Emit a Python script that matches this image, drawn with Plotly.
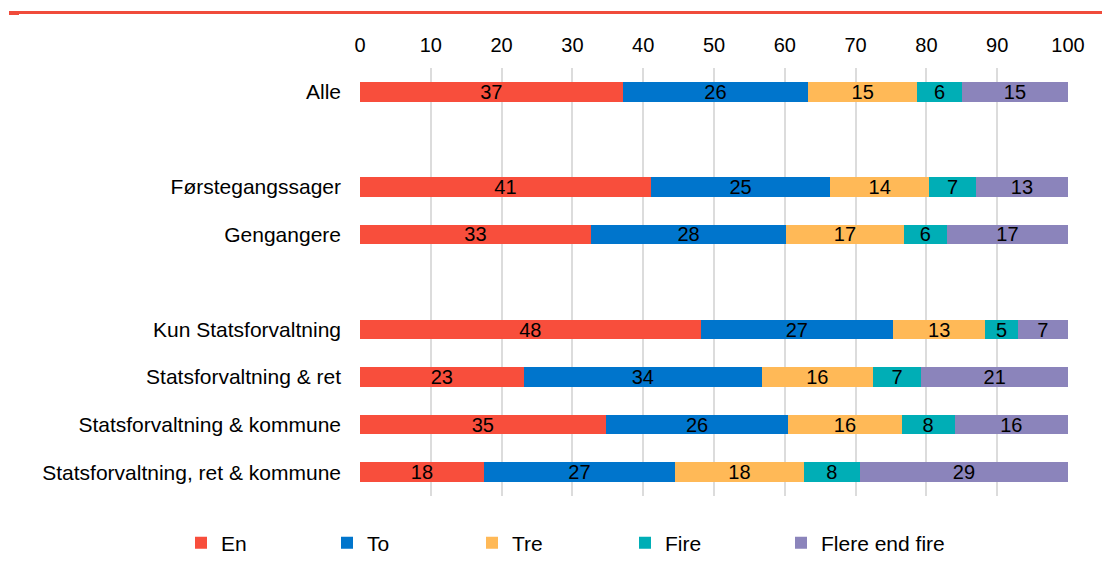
import plotly.graph_objects as go

categories = ["Alle", " ", "Førstegangssager", "Gengangere", "  ",
              "Kun Statsforvaltning", "Statsforvaltning & ret",
              "Statsforvaltning & kommune", "Statsforvaltning, ret & kommune"]

series_names = ["En", "To", "Tre", "Fire", "Flere end fire"]
en = [37.1, None, 41.1, 32.6, None, 48.1, 23.1, 34.7, 17.5]
to = [26.2, None, 25.3, 27.6, None, 27.2, 33.7, 25.8, 27.0]
tre = [15.4, None, 14.0, 16.6, None, 13.0, 15.6, 16.0, 18.2]
fire = [6.3, None, 6.6, 6.1, None, 4.6, 6.9, 7.5, 7.9]
flere = [15.0, None, 13.0, 17.1, None, 7.1, 20.7, 16.0, 29.4]
series_values = [en, to, tre, fire, flere]

colors = ["#F84E3C", "#0075CC", "#FFB957", "#00AEB6", "#8B84BB"]
x_ticks = [0, 10, 20, 30, 40, 50, 60, 70, 80, 90, 100]

FONT = "Liberation Sans, Arial, sans-serif"

# the page body has an 8px margin; figure coordinates = screen px - 8
OFF = 8
W, H = 1110 - OFF, 579 - OFF
L = 360 - OFF
R = 42
T = 68 - OFF
B = 83
pw = W - L - R
ph = H - T - B

def px_x(p):
    return (p - OFF - L) / pw

def px_y(p):
    return ((H - B) - (p - OFF)) / ph

fig = go.Figure()
legend_ids = ["legend", "legend2", "legend3", "legend4", "legend5"]
for name, vals, col, lg in zip(series_names, series_values, colors, legend_ids):
    fig.add_trace(go.Bar(
        y=categories, x=vals, name=name, orientation="h",
        marker=dict(color=col, line=dict(width=0)),
        texttemplate="%{x:.0f}", textposition="inside",
        insidetextanchor="middle", textangle=0,
        constraintext="none",
        textfont=dict(family=FONT, size=20, color="#000000"),
        hoverinfo="skip", legend=lg,
    ))

# legend text start positions (screen px)
text_px = [221, 367, 512, 665, 821]
legend_layout = {}
for lg, tx in zip(legend_ids, text_px):
    legend_layout[lg] = dict(
        x=px_x(tx - 40), xanchor="left",
        y=px_y(543), yanchor="middle",
        orientation="h", bgcolor="rgba(0,0,0,0)", borderwidth=0,
        font=dict(family=FONT, size=21, color="#000000"),
    )

fig.update_layout(
    width=W, height=H,
    margin=dict(l=L, r=R, t=T, b=B, pad=0),
    paper_bgcolor="white", plot_bgcolor="white",
    barmode="stack", bargap=0.59,
    font=dict(family=FONT, size=20, color="#000000"),
    showlegend=True,
    **legend_layout,
)

fig.update_xaxes(
    range=[0, 100], side="top", tickvals=x_ticks,
    showgrid=True, gridcolor="#DCDCDC", gridwidth=2,
    zeroline=False, showline=False, ticks="",
    tickfont=dict(family=FONT, size=20, color="#000000"),
    ticklabelstandoff=11, fixedrange=True,
)
fig.update_yaxes(
    categoryorder="array", categoryarray=categories,
    autorange="reversed", showgrid=False, zeroline=False,
    showline=False, ticks="",
    tickfont=dict(family=FONT, size=21, color="#000000"),
    ticklabelstandoff=18, fixedrange=True,
)

# red rule at the very top
fig.add_shape(type="rect", xref="paper", yref="paper",
              x0=px_x(9), x1=px_x(1110), y0=px_y(14), y1=px_y(11),
              fillcolor="#F04B3B", line=dict(width=0), layer="above")
fig.add_shape(type="rect", xref="paper", yref="paper",
              x0=px_x(9), x1=px_x(19), y0=px_y(15), y1=px_y(13),
              fillcolor="#F04B3B", line=dict(width=0), layer="above")

fig.write_html("out.html")
